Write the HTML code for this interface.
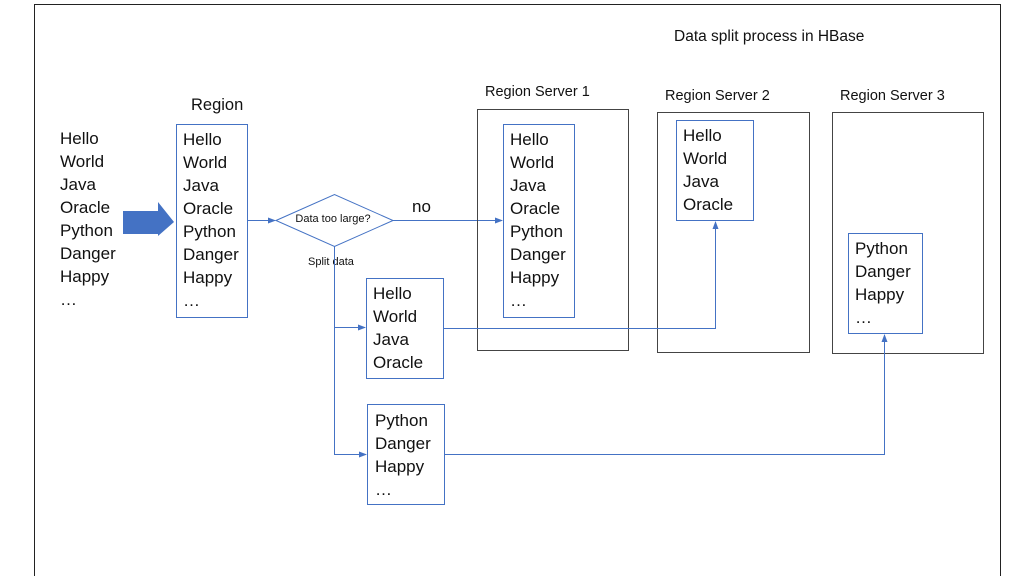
<!DOCTYPE html>
<html><head><style>
html,body{margin:0;padding:0;background:#fff;width:1024px;height:576px;overflow:hidden}
svg text{font-family:"Liberation Sans",sans-serif;fill:#111}
.t{font-size:17px}
</style></head><body>
<svg width="1024" height="576" viewBox="0 0 1024 576" xmlns="http://www.w3.org/2000/svg">
<defs><marker id="a" markerWidth="8" markerHeight="8" refX="7" refY="4" orient="auto" markerUnits="userSpaceOnUse"><path d="M0,1 L8,4 L0,7 Z" fill="#4472c4"/></marker></defs>
<path d="M34.5,576 V4.5 H1000.5 V576" fill="none" stroke="#222" stroke-width="1"/>
<text x="674" y="41" style="font-size:15.5px">Data split process in HBase</text>
<g class="t">
<text x="60" y="144">Hello</text><text x="60" y="167">World</text><text x="60" y="190">Java</text><text x="60" y="213">Oracle</text><text x="60" y="236">Python</text><text x="60" y="259">Danger</text><text x="60" y="282">Happy</text><text x="60" y="305">…</text>
</g>
<path d="M123,211 H158 V202 L174,222 L158,236 V234 H123 Z" fill="#4472c4"/>
<text x="191" y="110" style="font-size:16.5px">Region</text>
<rect x="176.5" y="124.5" width="71" height="193" fill="none" stroke="#4472c4"/>
<g class="t">
<text x="183" y="145">Hello</text><text x="183" y="168">World</text><text x="183" y="191">Java</text><text x="183" y="214">Oracle</text><text x="183" y="237">Python</text><text x="183" y="260">Danger</text><text x="183" y="283">Happy</text><text x="183" y="306">…</text>
</g>
<line x1="247" y1="220.5" x2="275" y2="220.5" stroke="#4472c4" marker-end="url(#a)"/>
<polygon points="276,220.5 334.5,194.5 393,220.5 334.5,246.5" fill="none" stroke="#4472c4"/>
<text x="333" y="222" text-anchor="middle" style="font-size:11px">Data too large?</text>
<text x="412" y="212" style="font-size:17px">no</text>
<line x1="393" y1="220.5" x2="502" y2="220.5" stroke="#4472c4" marker-end="url(#a)"/>
<text x="308" y="265" style="font-size:11px">Split data</text>
<path d="M334.5,246 V454.5" stroke="#4472c4" fill="none"/>
<line x1="334" y1="327.5" x2="365" y2="327.5" stroke="#4472c4" marker-end="url(#a)"/>
<line x1="334" y1="454.5" x2="366" y2="454.5" stroke="#4472c4" marker-end="url(#a)"/>
<text x="485" y="96" style="font-size:14.5px">Region Server 1</text>
<rect x="477.5" y="109.5" width="151" height="241" fill="none" stroke="#444"/>
<rect x="503.5" y="124.5" width="71" height="193" fill="none" stroke="#4472c4"/>
<g class="t">
<text x="510" y="145">Hello</text><text x="510" y="168">World</text><text x="510" y="191">Java</text><text x="510" y="214">Oracle</text><text x="510" y="237">Python</text><text x="510" y="260">Danger</text><text x="510" y="283">Happy</text><text x="510" y="306">…</text>
</g>
<text x="665" y="100" style="font-size:14.5px">Region Server 2</text>
<rect x="657.5" y="112.5" width="152" height="240" fill="none" stroke="#444"/>
<rect x="676.5" y="120.5" width="77" height="100" fill="none" stroke="#4472c4"/>
<g class="t">
<text x="683" y="141">Hello</text><text x="683" y="164">World</text><text x="683" y="187">Java</text><text x="683" y="210">Oracle</text>
</g>
<text x="840" y="100" style="font-size:14.5px">Region Server 3</text>
<rect x="832.5" y="112.5" width="151" height="241" fill="none" stroke="#444"/>
<rect x="848.5" y="233.5" width="74" height="100" fill="none" stroke="#4472c4"/>
<g class="t">
<text x="855" y="254">Python</text><text x="855" y="277">Danger</text><text x="855" y="300">Happy</text><text x="855" y="323">…</text>
</g>
<rect x="366.5" y="278.5" width="77" height="100" fill="none" stroke="#4472c4"/>
<g class="t">
<text x="373" y="299">Hello</text><text x="373" y="322">World</text><text x="373" y="345">Java</text><text x="373" y="368">Oracle</text>
</g>
<path d="M443,328.5 H715.5 V222" fill="none" stroke="#4472c4" marker-end="url(#a)"/>
<rect x="367.5" y="404.5" width="77" height="100" fill="none" stroke="#4472c4"/>
<g class="t">
<text x="375" y="426">Python</text><text x="375" y="449">Danger</text><text x="375" y="472">Happy</text><text x="375" y="495">…</text>
</g>
<path d="M444,454.5 H884.5 V335" fill="none" stroke="#4472c4" marker-end="url(#a)"/>
</svg>
</body></html>
